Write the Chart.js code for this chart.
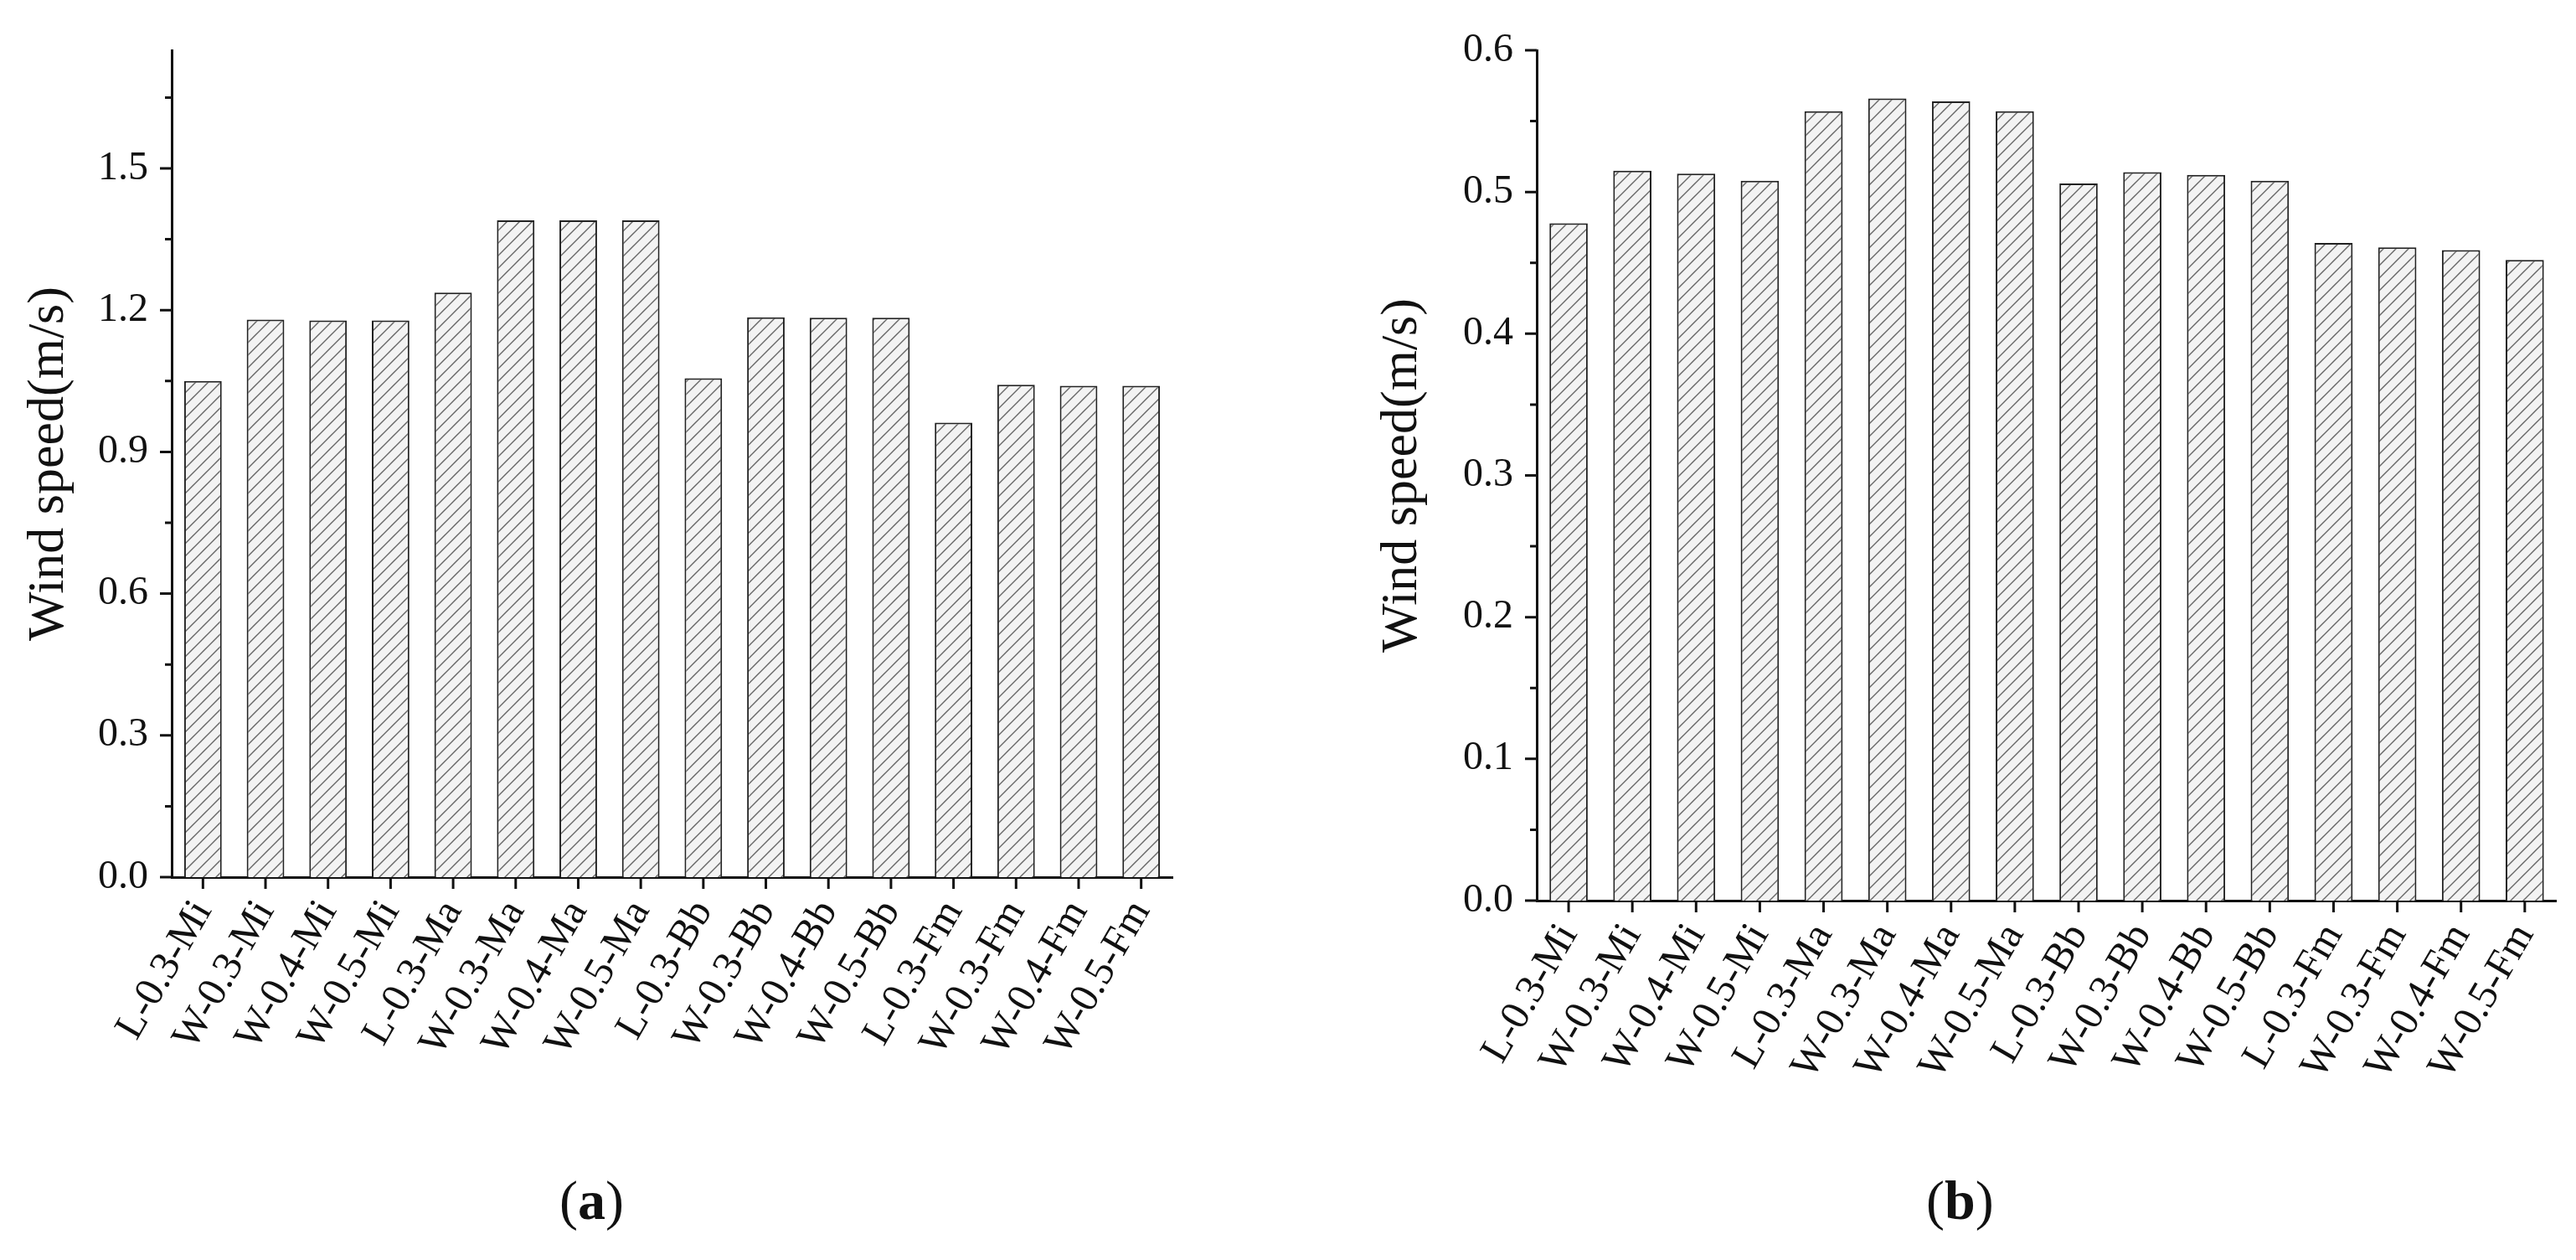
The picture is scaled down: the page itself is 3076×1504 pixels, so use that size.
<!DOCTYPE html>
<html>
<head>
<meta charset="utf-8">
<script src="https://cdn.jsdelivr.net/npm/chart.js@4"></script>
<style>
  body { margin: 0; background: #fff; width: 3076px; height: 1504px; position: relative; overflow: hidden; }
  .box { position: absolute; top: 0; width: 1538px; height: 1380px; }
  .cap { position: absolute; top: 1395px; font-family: "Liberation Serif", serif; font-size: 66px; color: #111; }
</style>
</head>
<body>
<div class="box" style="left:0"><canvas id="chartA"></canvas></div>
<div class="box" style="left:1538px"><canvas id="chartB"></canvas></div>
<div class="cap" style="left:668px">(<b>a</b>)</div>
<div class="cap" style="left:2300px">(<b>b</b>)</div>
<script>
const labels = ['L-0.3-Mi', 'W-0.3-Mi', 'W-0.4-Mi', 'W-0.5-Mi', 'L-0.3-Ma', 'W-0.3-Ma', 'W-0.4-Ma', 'W-0.5-Ma',
                'L-0.3-Bb', 'W-0.3-Bb', 'W-0.4-Bb', 'W-0.5-Bb', 'L-0.3-Fm', 'W-0.3-Fm', 'W-0.4-Fm', 'W-0.5-Fm'];
const speedA = [1.05, 1.18, 1.178, 1.178, 1.237, 1.39, 1.39, 1.39, 1.056, 1.185, 1.184, 1.184, 0.962, 1.042, 1.04, 1.04];
const speedB = [0.478, 0.515, 0.513, 0.508, 0.557, 0.566, 0.564, 0.557, 0.506, 0.514, 0.512, 0.508, 0.464, 0.461, 0.459, 0.452];
const ticksA = [0, 0.3, 0.6, 0.9, 1.2, 1.5];
const minorA = [0.15, 0.45, 0.75, 1.05, 1.35, 1.65];
const ticksB = [0, 0.1, 0.2, 0.3, 0.4, 0.5, 0.6];
const minorB = [0.05, 0.15, 0.25, 0.35, 0.45, 0.55];

function hatch() {
    const s = 15;
    const c = document.createElement('canvas');
    c.width = s; c.height = s;
    const g = c.getContext('2d');
    g.fillStyle = '#f3f3f3';
    g.fillRect(0, 0, s, s);
    g.strokeStyle = '#666';
    g.lineWidth = 1.4;
    g.beginPath();
    g.moveTo(-2, s + 2); g.lineTo(s + 2, -2);
    g.moveTo(-2, 2); g.lineTo(2, -2);
    g.moveTo(s - 2, s + 2); g.lineTo(s + 2, s - 2);
    g.stroke();
    return g.createPattern(c, 'repeat');
}

const tickMarks = {
    id: 'tickMarks',
    afterDraw(chart, args, opts) {
        const ctx = chart.ctx;
        const x = chart.scales.x, y = chart.scales.y;
        ctx.save();
        ctx.strokeStyle = '#111';
        ctx.lineWidth = 3;
        ctx.beginPath();
        opts.major.forEach(v => { const p = y.getPixelForValue(v); ctx.moveTo(y.right, p); ctx.lineTo(y.right - 14, p); });
        opts.minor.forEach(v => { const p = y.getPixelForValue(v); ctx.moveTo(y.right, p); ctx.lineTo(y.right - 8, p); });
        chart.data.labels.forEach((l, i) => { const p = x.getPixelForValue(i); ctx.moveTo(p, x.top); ctx.lineTo(p, x.top + 14); });
        ctx.stroke();
        ctx.restore();
    }
};

function makeChart(id, data, max, major, minor, yWidth, xHeight, padRight, titlePad) {
    return new Chart(document.getElementById(id), {
        type: 'bar',
        data: {
            labels: labels,
            datasets: [{
                data: data,
                backgroundColor: hatch(),
                borderColor: '#222',
                borderWidth: 2,
                barPercentage: 0.6,
                categoryPercentage: 1
            }]
        },
        options: {
            responsive: true,
            maintainAspectRatio: false,
            animation: false,
            layout: { padding: { top: 60, right: padRight, left: 0, bottom: 0 } },
            plugins: { legend: { display: false }, tooltip: { enabled: false }, tickMarks: { major: major, minor: minor } },
            scales: {
                x: {
                    grid: { display: false },
                    border: { color: '#111', width: 3 },
                    afterFit: s => { s.height = xHeight; },
                    ticks: {
                        color: '#111', minRotation: 60, maxRotation: 60, padding: 10,
                        font: { family: 'Liberation Serif', size: 49 }
                    }
                },
                y: {
                    min: 0, max: max,
                    grid: { display: false },
                    border: { color: '#111', width: 3 },
                    afterFit: s => { s.width = yWidth; },
                    afterBuildTicks: s => { s.ticks = major.map(v => ({ value: v })); },
                    ticks: {
                        color: '#111', padding: 20,
                        font: { family: 'Liberation Serif', size: 48 },
                        callback: v => v.toFixed(1)
                    },
                    title: {
                        display: true, text: 'Wind speed(m/s)', color: '#111',
                        padding: { top: titlePad, bottom: 0 },
                        font: { family: 'Liberation Serif', size: 62 }
                    }
                }
            }
        },
        plugins: [tickMarks]
    });
}

makeChart('chartA', speedA, 1.75, ticksA, minorA, 205, 333, 138, 22);
makeChart('chartB', speedB, 0.6, ticksB, minorB, 297, 305, 8, 100);
</script>
</body>
</html>
